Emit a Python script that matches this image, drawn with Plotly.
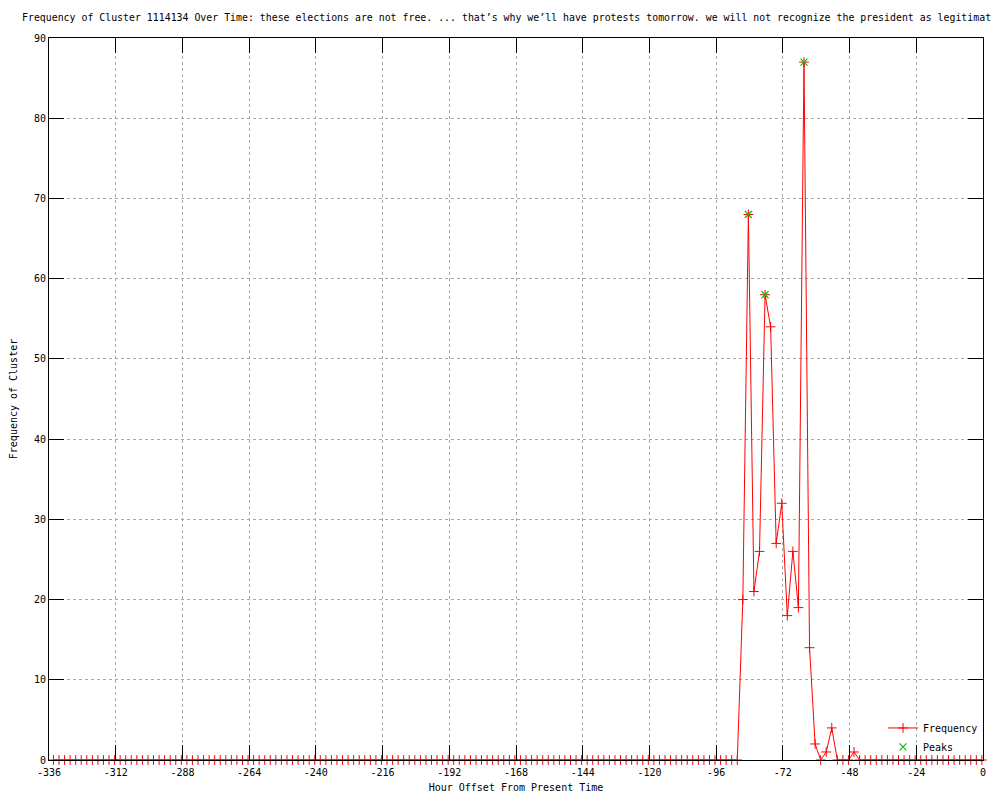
import plotly.graph_objects as go

# Hour offsets (every 2 hours) from -334.4 to -0.4
hours = [round(-334.4 + 2 * i, 1) for i in range(168)]

freq = (
    [0, 0, 0, 0, 0, 0, 0, 0, 0, 0, 0, 0, 0, 0, 0, 0, 0, 0, 0, 0,
     0, 0, 0, 0, 0, 0, 0, 0, 0, 0, 0, 0, 0, 0, 0, 0, 0, 0, 0, 0,
     0, 0, 0, 0, 0, 0, 0, 0, 0, 0, 0, 0, 0, 0, 0, 0, 0, 0, 0, 0,
     0, 0, 0, 0, 0, 0, 0, 0, 0, 0, 0, 0, 0, 0, 0, 0, 0, 0, 0, 0,
     0, 0, 0, 0, 0, 0, 0, 0, 0, 0, 0, 0, 0, 0, 0, 0, 0, 0, 0, 0,
     0, 0, 0, 0, 0, 0, 0, 0, 0, 0, 0, 0, 0, 0, 0, 0, 0, 0, 0, 0,
     0, 0, 0, 0]
    + [20, 68, 21, 26, 58, 54, 27, 32, 18, 26, 19, 87, 14, 2, 0, 1, 4, 0, 0, 0, 1]
    + [0, 0, 0, 0, 0, 0, 0, 0, 0, 0, 0, 0, 0, 0, 0, 0, 0, 0, 0, 0, 0, 0, 0]
)

peak_hours = [-84.4, -78.4, -64.4]
peak_vals = [68, 58, 87]

x_tick_vals = [-336, -312, -288, -264, -240, -216, -192, -168, -144, -120, -96, -72, -48, -24, 0]
x_tick_text = ["-336", "-312", "-288", "-264", "-240", "-216", "-192", "-168", "-144",
               "-120", "-96", "-72", "-48", "-24", "0"]
y_tick_vals = [0, 10, 20, 30, 40, 50, 60, 70, 80, 90]

title_text = ("Frequency of Cluster 1114134 Over Time: these elections are not free. ... "
              "that\u2019s why we\u2019ll have protests tomorrow. we will not recognize the "
              "president as legitimat")

FONT = "DejaVu Sans Mono"
W, H = 992, 792  # page body has an 8px margin

fig = go.Figure()
fig.add_trace(go.Scatter(
    x=hours, y=freq, mode="lines+markers", name="Frequency",
    line=dict(color="#ff0000", width=1),
    marker=dict(symbol="cross-thin", size=7, line=dict(color="#ff0000", width=1), color="#ff0000"),
    cliponaxis=False,
))
fig.add_trace(go.Scatter(
    x=peak_hours, y=peak_vals, mode="markers", name="Peaks",
    marker=dict(symbol="x-thin", size=7, line=dict(color="#00c000", width=1.2), color="#00c000"),
    cliponaxis=False,
))

axis_common = dict(
    showline=True, linecolor="black", linewidth=1, mirror="ticks",
    ticks="inside", ticklen=15, tickcolor="black", tickwidth=1,
    showgrid=True, gridcolor="#a8a8a8", gridwidth=1, griddash="3px,3px",
    zeroline=False, tickfont=dict(family=FONT, size=10, color="black"),
    automargin=False,
)

fig.update_layout(
    width=W, height=H,
    paper_bgcolor="white", plot_bgcolor="white",
    margin=dict(l=41, r=17, t=30, b=40, autoexpand=False),
    font=dict(family=FONT, size=10, color="black"),
    title=dict(text=title_text, x=14 / W, xanchor="left", xref="container",
               y=1 - 10 / H, yanchor="middle", yref="container",
               pad=dict(l=0, r=0, t=0, b=0),
               font=dict(family=FONT, size=9.9, color="black")),
    xaxis=dict(range=[-336, 0], tickvals=x_tick_vals, ticktext=x_tick_text,
               ticklabelstandoff=3,
               title=dict(text="Hour Offset From Present Time", standoff=6,
                          font=dict(family=FONT, size=10)),
               **axis_common),
    yaxis=dict(range=[0, 90], tickvals=y_tick_vals,
               title=dict(text="Frequency of Cluster", standoff=22,
                          font=dict(family=FONT, size=10)),
               **axis_common),
    legend=dict(x=1.0, xanchor="right", y=-0.002, yanchor="bottom",
                bgcolor="rgba(0,0,0,0)", font=dict(family=FONT, size=10),
                tracegroupgap=0, itemwidth=30),
    showlegend=True,
)

fig.write_html("out.html")
